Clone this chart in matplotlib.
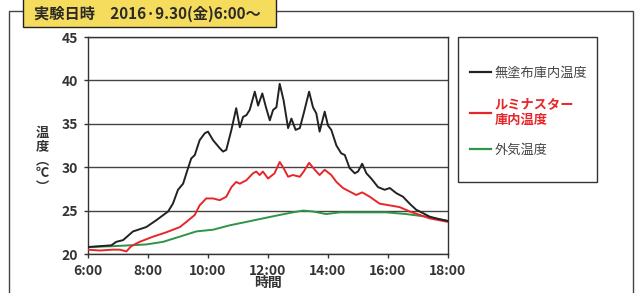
import matplotlib
matplotlib.use('Agg')
import matplotlib.pyplot as plt
from matplotlib.patches import Rectangle
from matplotlib.lines import Line2D

plt.rcParams['font.family'] = ['Noto Sans CJK JP', 'DejaVu Sans']

# データ（時刻[h], 温度[℃]）
t_black = [6.00, 6.78, 6.94, 7.17, 7.50, 7.94, 8.28, 8.67, 8.83, 9.00, 9.17, 9.28,
           9.44, 9.56, 9.72, 9.89, 10.00, 10.17, 10.39, 10.50, 10.61, 10.78, 10.94,
           11.06, 11.17, 11.28, 11.39, 11.56, 11.67, 11.81, 11.94, 12.06, 12.17,
           12.28, 12.39, 12.52, 12.67, 12.78, 12.92, 13.06, 13.19, 13.37, 13.50,
           13.61, 13.72, 13.89, 14.00, 14.11, 14.28, 14.44, 14.56, 14.72, 14.89,
           15.00, 15.14, 15.28, 15.44, 15.67, 15.89, 16.06, 16.28, 16.50, 16.72,
           16.94, 17.17, 17.39, 17.61, 18.00]
y_black = [20.8, 21.0, 21.4, 21.6, 22.6, 23.1, 23.9, 24.9, 25.8, 27.4, 28.1, 29.3,
           31.0, 31.4, 33.1, 33.9, 34.1, 33.1, 32.2, 31.8, 32.0, 34.3, 36.8,
           34.6, 35.8, 36.0, 36.6, 38.7, 37.1, 38.5, 36.8, 35.4, 36.6,
           36.9, 39.6, 37.7, 34.5, 35.6, 34.3, 34.5, 36.2, 38.7, 36.9,
           36.2, 34.1, 36.4, 34.8, 34.3, 32.5, 31.6, 31.4, 29.9, 29.3,
           29.5, 30.4, 29.3, 28.7, 27.7, 27.4, 27.6, 27.0, 26.6, 25.8,
           25.1, 24.7, 24.3, 24.1, 23.8]

t_red = [6.00, 6.39, 6.83, 7.06, 7.28, 7.44, 7.72, 8.17, 8.61, 9.06, 9.28, 9.56,
         9.72, 9.94, 10.17, 10.39, 10.61, 10.78, 10.94, 11.06, 11.28, 11.50, 11.61,
         11.72, 11.83, 12.00, 12.22, 12.39, 12.52, 12.67, 12.83, 13.06, 13.19,
         13.37, 13.56, 13.72, 13.89, 14.11, 14.28, 14.50, 14.72, 14.94, 15.14,
         15.39, 15.72, 16.06, 16.39, 16.72, 17.06, 17.39, 18.00]
y_red = [20.5, 20.4, 20.5, 20.5, 20.3, 20.9, 21.4, 22.0, 22.5, 23.1, 23.7, 24.5,
         25.6, 26.4, 26.4, 26.2, 26.6, 27.7, 28.3, 28.1, 28.5, 29.3, 29.5,
         29.1, 29.5, 28.7, 29.3, 30.6, 29.9, 28.9, 29.1, 28.9, 29.5,
         30.5, 29.7, 29.1, 29.7, 29.1, 28.3, 27.6, 27.2, 26.8, 27.1,
         26.6, 25.8, 25.6, 25.4, 24.9, 24.5, 24.1, 23.7]

t_green = [6.00, 6.83, 7.39, 7.94, 8.50, 9.06, 9.61, 10.17, 10.72, 11.28, 11.83,
           12.39, 12.83, 13.17, 13.50, 13.94, 14.39, 15.17, 15.94, 16.61, 17.28, 18.00]
y_green = [20.8, 20.9, 21.0, 21.1, 21.4, 22.0, 22.6, 22.8, 23.3, 23.7, 24.1,
           24.5, 24.8, 25.0, 24.9, 24.6, 24.8, 24.8, 24.8, 24.6, 24.3, 23.8]

labels = ['無塗布庫内温度', 'ルミナスター\n庫内温度', '外気温度']
colors = ['#222222', '#e8262a', '#2e9448']
x_ticks = [6, 8, 10, 12, 14, 16, 18]
x_labels = ['6:00', '8:00', '10:00', '12:00', '14:00', '16:00', '18:00']
y_ticks = [20, 25, 30, 35, 40, 45]

W, H = 642, 293
fig = plt.figure(figsize=(W / 100, H / 100), dpi=100)
fig.patch.set_facecolor('white')

# 外枠
fig.patches.append(Rectangle((9 / W, -0.05), 624 / W, 1 - 11 / H + 0.05,
                             transform=fig.transFigure, fill=False,
                             edgecolor='#444444', linewidth=1.0))

# タイトル枠
fig.patches.append(Rectangle((23 / W, 1 - 27 / H), 253 / W, 30 / H,
                             transform=fig.transFigure, facecolor='#f6dc5c',
                             edgecolor='#222222', linewidth=1.0, zorder=5))
fig.text(34 / W, 1 - 14 / H, '実験日時　2016·9.30(金)6:00～', ha='left', va='center',
         fontsize=11, fontweight='bold', color='#2a2a2a', zorder=6)

ax = fig.add_axes([88 / W, 1 - 254 / H, 360 / W, 217 / H])
ax.plot(t_black, y_black, color=colors[0], lw=1.4, zorder=4)
ax.plot(t_red, y_red, color=colors[1], lw=1.4, zorder=3)
ax.plot(t_green, y_green, color=colors[2], lw=1.4, zorder=2)

ax.set_xlim(6, 18)
ax.set_ylim(20, 45)
ax.set_xticks(x_ticks)
ax.set_xticklabels(x_labels)
ax.set_yticks(y_ticks)
ax.tick_params(direction='out', length=3, width=1, color='#333333',
               labelsize=10, labelcolor='#333333', pad=4)
for lab in ax.get_xticklabels() + ax.get_yticklabels():
    lab.set_fontweight('bold')
ax.grid(axis='y', color='#444444', lw=1.0)
ax.set_axisbelow(True)
for s in ax.spines.values():
    s.set_color('#333333')
    s.set_linewidth(1.0)

ax.set_xlabel('時間', fontsize=10, fontweight='bold', color='#333333', labelpad=-1)
fig.text(42 / W, 1 - 160 / H, '温\n度\n︵\n℃\n︶', ha='center', va='center',
         fontsize=9.5, fontweight='bold', color='#333333', linespacing=0.95)

# 凡例
fig.patches.append(Rectangle((458 / W, 1 - 182 / H), 139 / W, 145 / H,
                             transform=fig.transFigure, fill=False,
                             edgecolor='#333333', linewidth=1.0))
handles = [Line2D([], [], color=c, lw=1.6) for c in colors]
leg = fig.legend(handles, labels, loc='upper left', bbox_to_anchor=(463 / W, 1 - 60 / H),
                 frameon=False, fontsize=9.5, handlelength=1.6, handletextpad=0.3,
                 labelspacing=1.3, borderpad=0)
for txt, c in zip(leg.get_texts(), ['#444444', '#e8262a', '#444444']):
    txt.set_color(c)
leg.get_texts()[1].set_fontweight('bold')

fig.savefig('out.png', dpi=100)
